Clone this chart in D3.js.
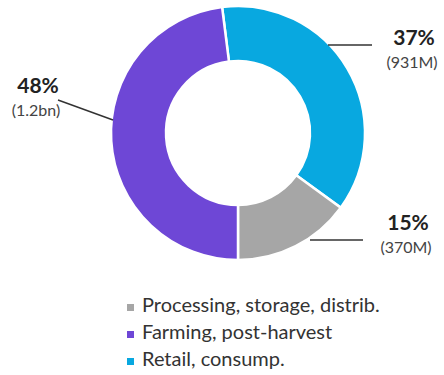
<!DOCTYPE html>
<html>
<head>
<meta charset="utf-8">
<script src="https://cdn.jsdelivr.net/npm/d3@7"></script>
<style>
  body { margin: 0; background: #fff; }
  text { font-family: Lato, "Open Sans", sans-serif; fill: #333; }
</style>
</head>
<body>
<div id="canvas"></div>
<script>
// data, in drawing order (clockwise from just left of 12 o'clock)
const categories = ["Retail, consump.", "Processing, storage, distrib.", "Farming, post-harvest"];
const shares = [37, 15, 48];
const amounts = ["(931M)", "(370M)", "(1.2bn)"];
const colors = ["#08a8e0", "#a6a6a6", "#6e47d6"];
// legend is listed in a different order than the slices
const legendOrder = ["Processing, storage, distrib.", "Farming, post-harvest", "Retail, consump."];

const width = 444;
const height = 375;
const cx = 238, cy = 133;
const outerR = 127, innerR = 72;

const svg = d3.select("#canvas").append("svg")
  .attr("width", width)
  .attr("height", height);

const color = d3.scaleOrdinal().domain(categories).range(colors);

const data = categories.map((c, i) => ({ name: c, value: shares[i], amount: amounts[i] }));

const pie = d3.pie()
  .sort(null)
  .value(d => d.value)
  .startAngle(-0.52 * Math.PI * 2 + Math.PI)
  .endAngle(-0.52 * Math.PI * 2 + Math.PI * 3);

const arc = d3.arc().innerRadius(innerR).outerRadius(outerR);

const g = svg.append("g").attr("transform", `translate(${cx},${cy})`);

const arcs = pie(data);

g.selectAll("path").data(arcs)
  .enter().append("path")
  .attr("d", arc)
  .attr("fill", d => color(d.data.name))
  .attr("stroke", "#fff")
  .attr("stroke-width", 2.5);

// leader lines + labels (label anchor spots picked by hand to match layout)
const labelPos = {
  "Retail, consump.": { line: [[90, -88], [134, -88]], x: 176, y: -88 },
  "Processing, storage, distrib.": { line: [[72, 107], [125, 107]], x: 170, y: 97 },
  "Farming, post-harvest": { line: [[-125, -13], [-180, -33]], x: -200, y: -40 }
};

const lineGen = d3.line();

arcs.forEach(d => {
  const p = labelPos[d.data.name];
  g.append("path")
    .attr("d", lineGen(p.line))
    .attr("fill", "none")
    .attr("stroke", "#333")
    .attr("stroke-width", 1.5);
  g.append("text")
    .attr("x", p.x).attr("y", p.y)
    .attr("text-anchor", "middle")
    .style("font-size", "21px")
    .style("font-weight", "bold")
    .style("fill", "#222")
    .text(d.data.value + "%");
  g.append("text")
    .attr("x", p.x - 2).attr("y", p.y + 23)
    .attr("text-anchor", "middle")
    .style("font-size", "16px")
    .style("fill", "#444")
    .text(d.data.amount);
});

// legend
const legend = svg.append("g").attr("transform", "translate(127,312)");
const row = d3.scaleBand().domain(legendOrder).range([0, 81]);

const items = legend.selectAll("g").data(legendOrder)
  .enter().append("g")
  .attr("transform", d => `translate(0,${row(d)})`);

items.append("rect")
  .attr("x", 0).attr("y", -8)
  .attr("width", 7).attr("height", 7)
  .attr("fill", d => color(d));

items.append("text")
  .attr("x", 15).attr("y", 0)
  .style("font-size", "20px")
  .style("fill", "#333")
  .text(d => d);
</script>
</body>
</html>
